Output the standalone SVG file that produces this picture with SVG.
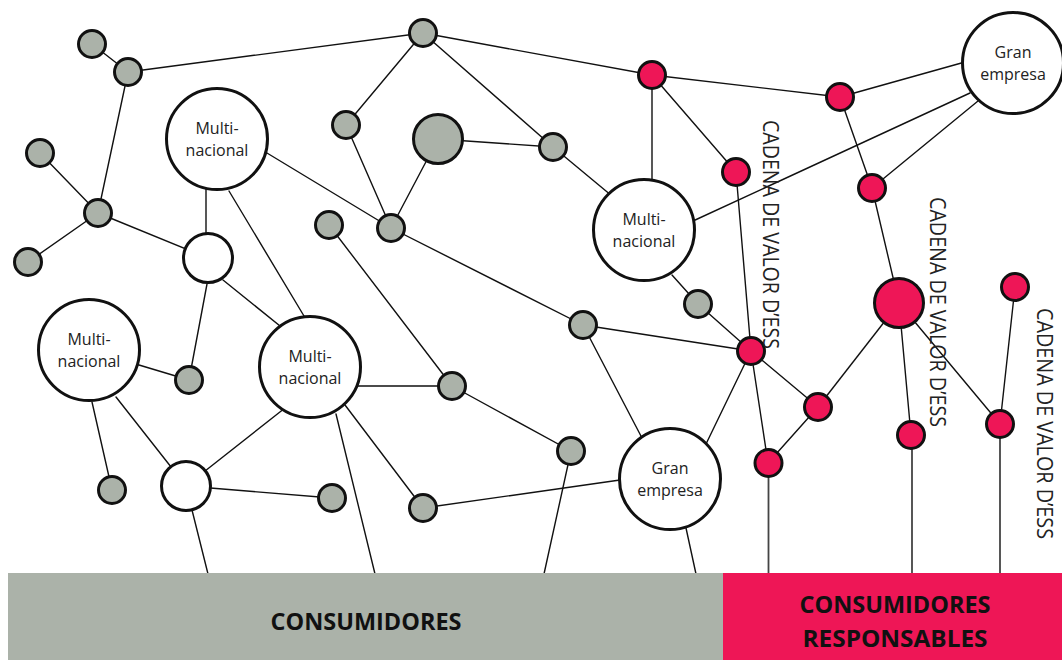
<svg xmlns="http://www.w3.org/2000/svg" width="1062" height="660" viewBox="0 0 1062 660">
<style>
.e{stroke:#111;stroke-width:1.4;fill:none;stroke-linecap:round}
.v{stroke:#444;stroke-width:1.8;fill:none}
.g{fill:#abb2a9;stroke:#111;stroke-width:3}
.r{fill:#ee1657;stroke:#111;stroke-width:3}
.w{fill:#fff;stroke:#111;stroke-width:3}
.lb{font-family:"Open Sans","Noto Sans","DejaVu Sans",sans-serif;font-size:16px;fill:#222;text-anchor:middle}
.cv{font-family:"Open Sans","Noto Sans","DejaVu Sans",sans-serif;font-size:21px;fill:#222}
.bt{font-family:"Open Sans","Noto Sans","DejaVu Sans",sans-serif;font-size:23px;font-weight:700;fill:#111;text-anchor:middle}
</style>
<rect width="1062" height="660" fill="#fff"/>
<g id="connectors">
<line class="e" x1="92" y1="44" x2="128" y2="72"/>
<line class="e" x1="128" y1="72" x2="423" y2="33"/>
<line class="e" x1="128" y1="72" x2="98" y2="213"/>
<line class="e" x1="40" y1="153" x2="98" y2="213"/>
<line class="e" x1="28" y1="262" x2="98" y2="213"/>
<line class="e" x1="98" y1="213" x2="208" y2="258"/>
<line class="e" x1="206" y1="188" x2="206" y2="236"/>
<line class="e" x1="229" y1="191" x2="304" y2="316"/>
<line class="e" x1="262" y1="150" x2="391" y2="228"/>
<line class="e" x1="207" y1="284" x2="189" y2="380"/>
<line class="e" x1="223" y1="280" x2="285" y2="330"/>
<line class="e" x1="89" y1="350" x2="189" y2="380"/>
<line class="e" x1="92" y1="402" x2="112" y2="490"/>
<line class="e" x1="116" y1="397" x2="186" y2="486"/>
<line class="e" x1="186" y1="486" x2="285" y2="408"/>
<line class="e" x1="186" y1="486" x2="332" y2="498"/>
<line class="e" x1="192" y1="510" x2="208" y2="574"/>
<line class="e" x1="336" y1="414" x2="375" y2="574"/>
<line class="e" x1="355" y1="386" x2="452" y2="386"/>
<line class="e" x1="345" y1="405" x2="423" y2="508"/>
<line class="e" x1="423" y1="33" x2="346" y2="125"/>
<line class="e" x1="423" y1="33" x2="553" y2="147"/>
<line class="e" x1="423" y1="33" x2="652" y2="75"/>
<line class="e" x1="346" y1="125" x2="391" y2="228"/>
<line class="e" x1="438" y1="139" x2="391" y2="228"/>
<line class="e" x1="438" y1="139" x2="553" y2="147"/>
<line class="e" x1="553" y1="147" x2="612" y2="196"/>
<line class="e" x1="329" y1="225" x2="452" y2="386"/>
<line class="e" x1="391" y1="228" x2="583" y2="325"/>
<line class="e" x1="452" y1="386" x2="571" y2="451"/>
<line class="e" x1="583" y1="325" x2="751" y2="351"/>
<line class="e" x1="583" y1="325" x2="642" y2="438"/>
<line class="e" x1="571" y1="451" x2="544" y2="574"/>
<line class="e" x1="423" y1="508" x2="620" y2="480"/>
<line class="e" x1="686" y1="528" x2="696" y2="574"/>
<line class="e" x1="751" y1="351" x2="706" y2="444"/>
<line class="e" x1="652" y1="75" x2="840" y2="97"/>
<line class="e" x1="652" y1="75" x2="652" y2="180"/>
<line class="e" x1="652" y1="75" x2="736" y2="172"/>
<line class="e" x1="840" y1="97" x2="965" y2="62"/>
<line class="e" x1="840" y1="97" x2="872" y2="188"/>
<line class="e" x1="693" y1="221" x2="970" y2="93"/>
<line class="e" x1="872" y1="188" x2="978" y2="101"/>
<line class="e" x1="872" y1="188" x2="899" y2="303"/>
<line class="e" x1="736" y1="172" x2="751" y2="351"/>
<line class="e" x1="672" y1="275" x2="698" y2="304"/>
<line class="e" x1="698" y1="304" x2="751" y2="351"/>
<line class="e" x1="751" y1="351" x2="818" y2="407"/>
<line class="e" x1="751" y1="351" x2="768" y2="463"/>
<line class="e" x1="818" y1="407" x2="768" y2="463"/>
<line class="e" x1="818" y1="407" x2="899" y2="303"/>
<line class="e" x1="899" y1="303" x2="911" y2="435"/>
<line class="e" x1="899" y1="303" x2="1000" y2="424"/>
<line class="e" x1="1015" y1="287" x2="1000" y2="424"/>
<line class="v" x1="768.5" y1="463" x2="768.5" y2="574"/>
<line class="v" x1="912" y1="435" x2="912" y2="574"/>
<line class="v" x1="1000" y1="424" x2="1000" y2="574"/>
</g>
<g id="bars">
<rect x="8" y="573" width="715" height="87" fill="#abb2a9"/>
<rect x="723" y="573" width="339" height="87" fill="#ee1656"/>
<text class="bt" x="366" y="630" textLength="191" lengthAdjust="spacingAndGlyphs">CONSUMIDORES</text>
<text class="bt" x="895" y="613" textLength="191" lengthAdjust="spacingAndGlyphs">CONSUMIDORES</text>
<text class="bt" x="895" y="647" textLength="185" lengthAdjust="spacingAndGlyphs">RESPONSABLES</text>
</g>
<g id="n-a"><circle class="g" cx="92" cy="44" r="13.5"/></g>
<g id="n-b"><circle class="g" cx="128" cy="72" r="13.5"/></g>
<g id="n-c"><circle class="g" cx="423" cy="33" r="13.5"/></g>
<g id="n-d"><circle class="g" cx="40" cy="153" r="13.5"/></g>
<g id="n-e"><circle class="g" cx="98" cy="213" r="13.5"/></g>
<g id="n-f"><circle class="g" cx="28" cy="262" r="13.5"/></g>
<g id="n-g"><circle class="g" cx="346" cy="125" r="13.5"/></g>
<g id="n-h"><circle class="g" cx="438" cy="139" r="24.5"/></g>
<g id="n-i"><circle class="g" cx="553" cy="147" r="13.5"/></g>
<g id="n-j"><circle class="g" cx="329" cy="225" r="13.5"/></g>
<g id="n-k"><circle class="g" cx="391" cy="228" r="13.5"/></g>
<g id="n-l"><circle class="g" cx="698" cy="304" r="13.5"/></g>
<g id="n-m"><circle class="g" cx="583" cy="325" r="13.5"/></g>
<g id="n-n"><circle class="g" cx="189" cy="380" r="13.5"/></g>
<g id="n-o"><circle class="g" cx="452" cy="386" r="13.5"/></g>
<g id="n-p"><circle class="g" cx="571" cy="451" r="13.5"/></g>
<g id="n-q"><circle class="g" cx="112" cy="490" r="13.5"/></g>
<g id="n-r"><circle class="g" cx="332" cy="498" r="13.5"/></g>
<g id="n-s"><circle class="g" cx="423" cy="508" r="13.5"/></g>
<g id="w-1"><circle class="w" cx="208" cy="258" r="24.5"/></g>
<g id="w-2"><circle class="w" cx="186" cy="486" r="24.5"/></g>
<g id="multi-1"><circle class="w" cx="217" cy="139" r="50.5"/><text class="lb" x="217" y="134">Multi-</text><text class="lb" x="217" y="156">nacional</text></g>
<g id="multi-2"><circle class="w" cx="89" cy="350" r="50.5"/><text class="lb" x="89" y="345">Multi-</text><text class="lb" x="89" y="367">nacional</text></g>
<g id="multi-3"><circle class="w" cx="310" cy="367" r="50.5"/><text class="lb" x="310" y="362">Multi-</text><text class="lb" x="310" y="384">nacional</text></g>
<g id="multi-4"><circle class="w" cx="644" cy="230" r="50.5"/><text class="lb" x="644" y="225">Multi-</text><text class="lb" x="644" y="247">nacional</text></g>
<g id="gran-1"><circle class="w" cx="670" cy="479" r="50.5"/><text class="lb" x="670" y="474">Gran</text><text class="lb" x="670" y="496">empresa</text></g>
<g id="gran-2"><circle class="w" cx="1013" cy="63" r="50.5"/><text class="lb" x="1013" y="58">Gran</text><text class="lb" x="1013" y="80">empresa</text></g>
<g id="r-1"><circle class="r" cx="652" cy="75" r="13.5"/></g>
<g id="r-2"><circle class="r" cx="840" cy="97" r="13.5"/></g>
<g id="r-3"><circle class="r" cx="736" cy="172" r="13.5"/></g>
<g id="r-4"><circle class="r" cx="872" cy="188" r="13.5"/></g>
<g id="r-5"><circle class="r" cx="899" cy="303" r="24.5"/></g>
<g id="r-6"><circle class="r" cx="1015" cy="287" r="13.5"/></g>
<g id="r-7"><circle class="r" cx="751" cy="351" r="13.5"/></g>
<g id="r-8"><circle class="r" cx="818" cy="407" r="13.5"/></g>
<g id="r-9"><circle class="r" cx="768.5" cy="463" r="13.5"/></g>
<g id="r-10"><circle class="r" cx="911" cy="435" r="13.5"/></g>
<g id="r-11"><circle class="r" cx="1000" cy="424" r="13.5"/></g>
<g id="labels">
<text class="cv" transform="translate(763 120) rotate(90)" textLength="229" lengthAdjust="spacingAndGlyphs">CADENA DE VALOR D’ESS</text>
<text class="cv" transform="translate(930 197) rotate(90)" textLength="230" lengthAdjust="spacingAndGlyphs">CADENA DE VALOR D’ESS</text>
<text class="cv" transform="translate(1037 308) rotate(90)" textLength="231" lengthAdjust="spacingAndGlyphs">CADENA DE VALOR D’ESS</text>
</g>
</svg>
